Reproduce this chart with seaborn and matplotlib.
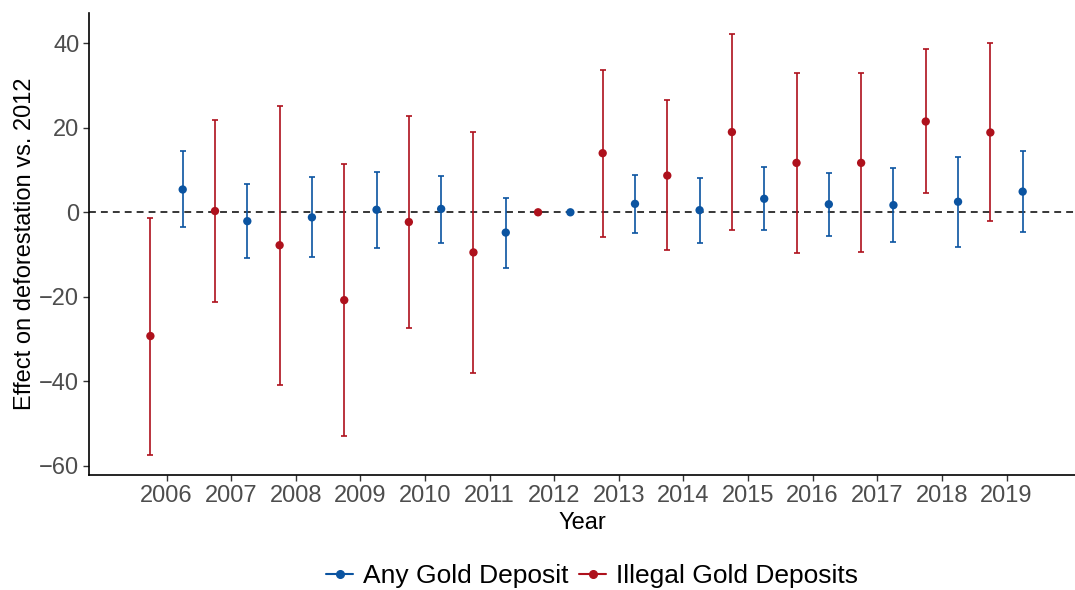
import numpy as np
import pandas as pd
import matplotlib
matplotlib.use("Agg")
import matplotlib.pyplot as plt
import seaborn as sns
from matplotlib.lines import Line2D

# Event-study estimates relative to 2012 (reference year fixed at zero)
years = list(range(2006, 2020))

any_est = [5.4, -2.1, -1.2, 0.6, 0.8, -4.8, 0.0, 2.0, 0.5, 3.2, 1.9, 1.7, 2.5, 4.9]
any_lo = [-3.6, -10.8, -10.6, -8.4, -7.3, -13.2, 0.0, -4.8, -7.3, -4.2, -5.5, -7.0, -8.2, -4.7]
any_hi = [14.4, 6.6, 8.3, 9.6, 8.7, 3.5, 0.0, 8.8, 8.2, 10.8, 9.3, 10.4, 13.2, 14.6]

illegal_est = [-29.3, 0.3, -7.8, -20.8, -2.3, -9.5, 0.0, 14.0, 8.7, 19.0, 11.7, 11.7, 21.5, 18.9]
illegal_lo = [-57.4, -21.2, -40.8, -52.9, -27.3, -38.0, 0.0, -5.8, -9.0, -4.3, -9.7, -9.5, 4.5, -2.1]
illegal_hi = [-1.3, 21.9, 25.2, 11.4, 22.9, 18.9, 0.0, 33.8, 26.6, 42.3, 33.0, 33.0, 38.6, 40.1]

groups = ["Any Gold Deposit", "Illegal Gold Deposits"]
colors = {"Any Gold Deposit": "#0B54A1", "Illegal Gold Deposits": "#AE111C"}
dodge = {"Any Gold Deposit": 0.25, "Illegal Gold Deposits": -0.25}

frames = []
for g, est, lo, hi in [
    (groups[0], any_est, any_lo, any_hi),
    (groups[1], illegal_est, illegal_lo, illegal_hi),
]:
    frames.append(pd.DataFrame({"group": g, "year": years, "est": est, "lo": lo, "hi": hi}))
df = pd.concat(frames, ignore_index=True)
df["xpos"] = df["year"] + df["group"].map(dodge)

sns.set_theme(style="ticks")
plt.rcParams["font.family"] = ["Liberation Sans", "DejaVu Sans"]

fig = plt.figure(figsize=(10.75, 5.9), dpi=100)
ax = fig.add_axes([0.0828, 0.195, 0.9172, 0.783])

# reference line at zero
ax.axhline(0, color="black", lw=1.1, linestyle=(0, (4.5, 3.3)), zorder=1)

# confidence intervals
for g in groups:
    sub = df[(df["group"] == g) & (df["hi"] > df["lo"])]
    ax.errorbar(sub["xpos"], sub["est"],
                yerr=[sub["est"] - sub["lo"], sub["hi"] - sub["est"]],
                fmt="none", ecolor=colors[g], elinewidth=1.2,
                capsize=2.5, capthick=1.2, zorder=2)

# point estimates
sns.scatterplot(data=df, x="xpos", y="est", hue="group", hue_order=groups,
                palette=colors, s=36, linewidth=0, legend=False, ax=ax, zorder=3)

ax.set_xlim(2004.8, 2020.06)
ax.set_ylim(-62.2, 47.2)
ax.set_xticks(years)
ax.set_xticklabels([str(y) for y in years])
ax.set_yticks([-60, -40, -20, 0, 20, 40])

for side in ["top", "right"]:
    ax.spines[side].set_visible(False)
for side in ["left", "bottom"]:
    ax.spines[side].set_color("black")
    ax.spines[side].set_linewidth(1.2)

ax.tick_params(axis="both", length=4, width=1.0, color="#333333",
               labelsize=17, labelcolor="#4D4D4D", pad=3)

ax.set_xlabel("Year", fontsize=17, color="black", labelpad=4)
ax.set_ylabel("Effect on deforestation vs. 2012", fontsize=17, color="black", labelpad=2)

handles = [Line2D([0], [0], color=colors[g], lw=1.5, marker="o", markersize=5.5)
           for g in groups]
fig.legend(handles, groups, loc="center", bbox_to_anchor=(0.551, 1 - 576 / 590),
           ncol=2, frameon=False, fontsize=19, handlelength=1.0,
           handletextpad=0.4, columnspacing=0.4, labelcolor="black")

fig.savefig("out.png", dpi=100)
